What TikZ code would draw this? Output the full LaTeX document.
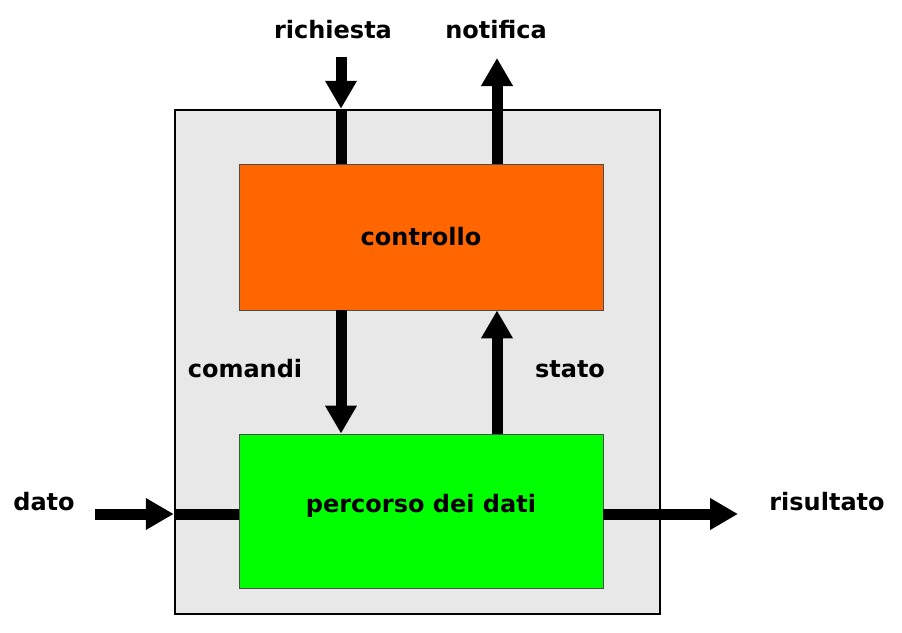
\documentclass[tikz,border=0pt]{standalone}
\usepackage{fontspec}
\setmainfont{DejaVu Sans}
\usepackage[HTML]{xcolor}
\usetikzlibrary{positioning, arrows.meta}
\definecolor{boxgray}{HTML}{E8E8E8}
\definecolor{ctrlorange}{HTML}{FF6600}
\definecolor{dpgreen}{HTML}{00FF00}
\tikzset{
  block/.style={draw=black!70, line width=0.8pt, minimum width=364pt, inner sep=0pt},
  sigtext/.style={font=\bfseries\fontsize{24}{28}\selectfont},
  bus/.style={line width=11pt},
  busarrow/.style={line width=11pt, -{Triangle[length=28pt, width=30pt]}}
}

\begin{document}
\begin{tikzpicture}[x=1pt, y=-1pt]
\useasboundingbox (0,0) rectangle (902,632);
\node[draw, fill=boxgray, line width=2.5pt, minimum width=485pt, minimum height=504pt, inner sep=0pt] (outer) at (417.5,362) {};
\node[block, fill=ctrlorange, minimum height=146pt, sigtext] (ctrl) at (421,237) {controllo};
\node[block, fill=dpgreen, minimum height=154pt, sigtext, text depth=16pt] (dp) at (421,511) {percorso dei dati};
% inputs and outputs
\coordinate (rich) at (341,57);
\coordinate (noti) at (497,58);
\coordinate (datoin) at (95,514);
\coordinate (risout) at (738,514);
\node[sigtext] (richlbl) at (333,30) {richiesta};
\node[sigtext] (notilbl) at (496,30) {notifica};
\node[sigtext] (datolbl) at (44,502) {dato};
\node[sigtext] (rislbl) at (827,502) {risultato};
\node[sigtext] (comlbl) at (245,369) {comandi};
\node[sigtext] (statolbl) at (570,369) {stato};
% connectors
\draw[busarrow] (rich) -- (rich |- outer.north);
\draw[bus] (rich |- outer.north) -- (rich |- ctrl.north);
\draw[busarrow] (noti |- ctrl.north) -- (noti);
\draw[busarrow] (rich |- ctrl.south) -- (rich |- dp.north);
\draw[busarrow] (noti |- dp.north) -- (noti |- ctrl.south);
\draw[busarrow] (datoin) -- (datoin -| outer.west);
\draw[bus] (datoin -| outer.west) -- (datoin -| dp.west);
\draw[busarrow] (risout -| dp.east) -- (risout);
\end{tikzpicture}
\end{document}
